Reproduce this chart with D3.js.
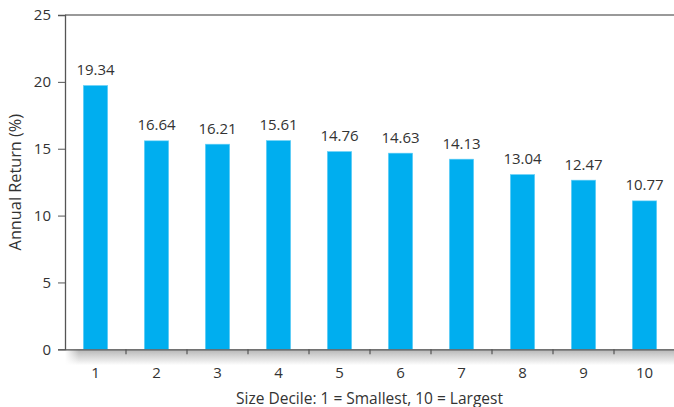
<!DOCTYPE html>
<html><head><meta charset="utf-8">
<script src="https://cdn.jsdelivr.net/npm/d3@7"></script>
<style>body{margin:0;background:#fff}svg{display:block}text{font-family:"Open Sans","Noto Sans",sans-serif;fill:#333}</style>
</head><body><svg id="c" width="674" height="407"></svg>
<script>
const categories = ["1","2","3","4","5","6","7","8","9","10"];
const barValues = [19.73, 15.59, 15.34, 15.61, 14.79, 14.67, 14.22, 13.07, 12.65, 11.1];
const labelTexts = ["19.34","16.64","16.21","15.61","14.76","14.63","14.13","13.04","12.47","10.77"];
const yTicks = [0, 5, 10, 15, 20, 25];
const xTitle = "Size Decile: 1 = Smallest, 10 = Largest";
const yTitle = "Annual Return (%)";

const svg = d3.select("#c");
const m = {left: 65, right: -1, top: 15, bottom: 58};
const W = 674, H = 407;
const x = d3.scaleBand().domain(categories).range([m.left, W - m.right]).paddingInner(0.6).paddingOuter(0.3);
const xb = d3.scaleBand().domain(categories).range([m.left, W - m.right]);
const y = d3.scaleLinear().domain([0, 25]).range([349.3, 15]);
const FF = "'Open Sans','Noto Sans',sans-serif";

// shadow under x-axis
const defs = svg.append("defs");
const g1 = defs.append("linearGradient").attr("id","sh").attr("x1",0).attr("y1",0).attr("x2",0).attr("y2",1);
g1.append("stop").attr("offset","0%").attr("stop-color","#b5b5b5");
g1.append("stop").attr("offset","100%").attr("stop-color","#fff");
const g2 = defs.append("linearGradient").attr("id","shl").attr("x1",0).attr("y1",0).attr("x2",1).attr("y2",0);
g2.append("stop").attr("offset","0%").attr("stop-color","#fff").attr("stop-opacity",1);
g2.append("stop").attr("offset","100%").attr("stop-color","#fff").attr("stop-opacity",0);
svg.append("rect").attr("x", m.left).attr("y", y(0)).attr("width", W - m.left).attr("height", 16).attr("fill","url(#sh)");
svg.append("rect").attr("x", m.left).attr("y", y(0)).attr("width", 14).attr("height", 16).attr("fill","url(#shl)");

// top border
svg.append("line").attr("x1", m.left).attr("x2", W).attr("y1", y(25)).attr("y2", y(25))
  .attr("stroke","#999").attr("stroke-width",2);

// bars
svg.selectAll("rect.bar").data(barValues).join("rect").attr("class","bar")
  .attr("x",(d,i)=>x(categories[i])).attr("width",x.bandwidth())
  .attr("y",d=>y(d)).attr("height",d=>y(0)-y(d))
  .attr("fill","#00aeef").attr("stroke","#6fd3f7").attr("stroke-width",0.6);

// labels
svg.selectAll("text.lbl").data(barValues).join("text").attr("class","lbl")
  .attr("x",(d,i)=>x(categories[i])+x.bandwidth()/2).attr("y",d=>y(d)-10.5)
  .attr("text-anchor","middle").attr("font-size",15).text((d,i)=>labelTexts[i]);

// y axis
const ya = svg.append("g").attr("transform",`translate(${m.left},0)`)
  .call(d3.axisLeft(y).tickValues(yTicks).tickSize(7).tickPadding(7));
ya.select(".domain").attr("stroke","#555").attr("stroke-width",1.3);
ya.selectAll(".tick line").attr("stroke","#555");
ya.selectAll(".tick text").attr("font-size",15).attr("fill","#333").attr("font-family",FF);

// x axis
const xa = svg.append("g").attr("transform",`translate(0,${y(0)})`)
  .call(d3.axisBottom(xb).tickSize(0).tickPadding(18));
xa.select(".domain").attr("stroke","#555").attr("stroke-width",1.3);
xa.selectAll(".tick text").attr("font-size",15).attr("fill","#333").attr("font-family",FF);
// boundary ticks
const bounds = categories.slice(1).map(c => xb(c));
svg.selectAll("line.bt").data(bounds).join("line").attr("class","bt")
  .attr("x1",d=>d).attr("x2",d=>d).attr("y1",y(0)).attr("y2",y(0)+5)
  .attr("stroke","#555").attr("stroke-width",1.2);

// titles
svg.append("text").attr("x",(m.left+W)/2).attr("y",403.5).attr("text-anchor","middle")
  .attr("font-size",15.5).text(xTitle);
svg.append("text").attr("transform",`translate(21,${(y(0)+y(25))/2}) rotate(-90)`)
  .attr("text-anchor","middle").attr("font-size",16.3).text(yTitle);
</script></body></html>
